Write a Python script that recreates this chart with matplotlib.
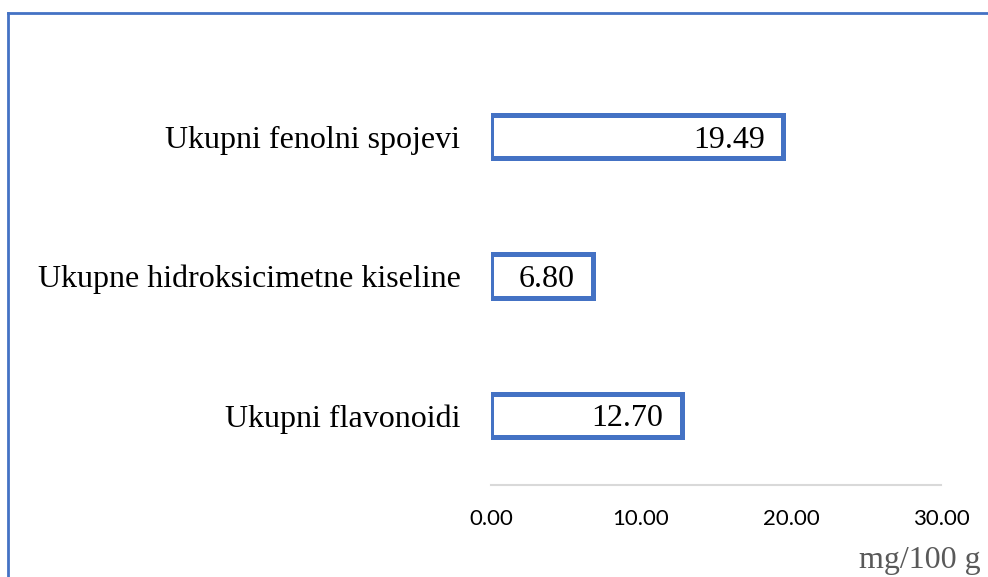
import matplotlib
matplotlib.use('Agg')
import matplotlib.pyplot as plt
from matplotlib.lines import Line2D

categories = ['Ukupni flavonoidi', 'Ukupne hidroksicimetne kiseline', 'Ukupni fenolni spojevi']
values = [12.70, 6.80, 19.49]
xticks = [0, 10, 20, 30]
unit_label = 'mg/100 g'

blue = '#4472C4'
serif = 'Liberation Serif'

fig = plt.figure(figsize=(9.88, 5.77), dpi=100)
ax = fig.add_axes([491 / 988, 1 - 485 / 577, 450 / 988, (485 - 67) / 577])

ypos = list(range(len(categories)))
bars = ax.barh(ypos, values, height=0.31, color='white', edgecolor=blue, linewidth=3.6)

for y, v in zip(ypos, values):
    ax.annotate(f'{v:.2f}', xy=(v, y), xytext=(-13, 0), textcoords='offset points',
                ha='right', va='center_baseline', fontsize=23, family=serif, color='black')

ax.set_xlim(0, 30)
ax.set_ylim(-0.5, len(categories) - 0.5)
ax.set_xticks(xticks)
ax.set_xticklabels([f'{t:.2f}' for t in xticks], fontsize=16, family='Lato', color='black')
ax.set_yticks(ypos)
ax.set_yticklabels(categories, fontsize=23, family=serif, color='black')
ax.tick_params(axis='x', length=0, pad=17)
ax.tick_params(axis='y', length=0, pad=22)

for side in ['top', 'right', 'left']:
    ax.spines[side].set_visible(False)
ax.spines['bottom'].set_color('#d9d9d9')
ax.spines['bottom'].set_linewidth(1.5)

fig.text(981 / 988, 2 / 577, unit_label, ha='right', va='bottom',
         fontsize=23, family=serif, color='#595959')

# outer chart border (only left and top visible)
bx, by = 7.5 / 988, 1 - 12.5 / 577
fig.add_artist(Line2D([bx, bx], [0, by], color=blue, linewidth=2, transform=fig.transFigure))
fig.add_artist(Line2D([bx, 1], [by, by], color=blue, linewidth=2, transform=fig.transFigure))

fig.savefig('out.png', dpi=100, facecolor='white')
